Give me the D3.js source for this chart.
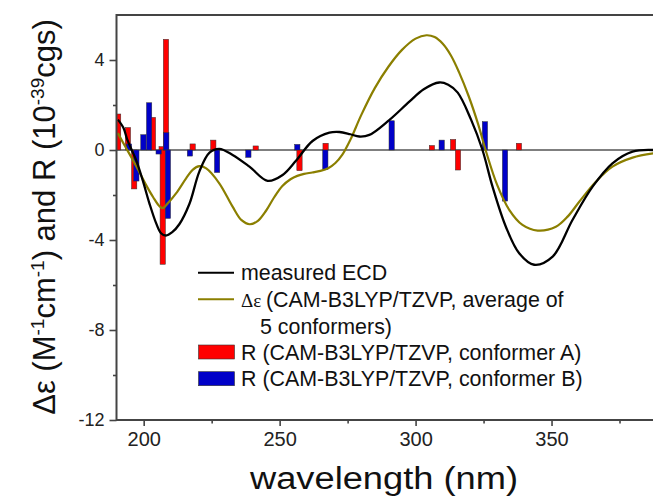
<!DOCTYPE html>
<html>
<head>
<meta charset="utf-8">
<script src="https://cdn.jsdelivr.net/npm/d3@7"></script>
<style>
  body { margin: 0; background: #fff; }
  svg { display: block; font-family: Arial, "Liberation Sans", sans-serif; }
</style>
</head>
<body>
<svg id="chart" width="653" height="496"></svg>
<script>
// measured ECD (wavelength nm, delta epsilon)
const ecdWl = [190.5, 192.5, 194, 195.6, 197.2, 199.6, 202.1, 204.6, 206.4, 208.2, 210.5, 213.1, 216.8, 220.5, 224.2, 227.8, 232.7, 238.9, 245.6, 251.1, 256, 262.1, 268.3, 272, 276, 279.3, 283, 290.3, 297.7, 303, 308.7, 312, 315.5, 320.4, 324.6, 328.3, 333.2, 338.1, 343.6, 350.4, 357.7, 365.1, 372.4, 379.8, 387.5];
const ecdVal = [1.35, 1.0, 0.45, 0.0, -0.44, -1.33, -2.37, -3.26, -3.7, -3.8, -3.65, -3.3, -2.4, -0.95, -0.12, 0.05, -0.22, -0.74, -1.37, -1.11, -0.48, 0.4, 0.77, 0.8, 0.7, 0.6, 0.67, 1.33, 2.15, 2.7, 3.0, 2.9, 2.55, 1.35, 0.0, -1.63, -3.41, -4.59, -5.1, -4.74, -3.11, -1.63, -0.59, -0.07, 0.0];

// calculated spectrum, average of 5 conformers
const calcWl = [190.5, 193, 196, 198.5, 200.9, 203.5, 205.8, 207, 209, 211.9, 215.6, 218, 220.5, 223, 227.8, 232.7, 236, 239, 242, 245, 248, 251, 254, 256.5, 259, 262, 265, 268, 270.5, 273, 276, 280, 285, 290, 295, 300, 304, 307, 310, 313, 316, 319.5, 323, 326, 330, 334.5, 339.3, 344.9, 351.6, 356, 360.2, 366.3, 372.4, 379.8, 387.5];
const calcVal = [0.75, 0.2, -0.44, -1.0, -1.56, -2.1, -2.5, -2.58, -2.35, -1.93, -1.26, -0.88, -0.72, -0.82, -1.48, -2.52, -3.12, -3.3, -3.15, -2.7, -2.1, -1.6, -1.3, -1.15, -1.06, -1.0, -0.93, -0.8, -0.58, -0.22, 0.45, 1.55, 2.75, 3.7, 4.45, 4.95, 5.1, 5.02, 4.72, 4.2, 3.45, 2.4, 1.15, -0.1, -1.55, -2.67, -3.33, -3.58, -3.41, -2.95, -2.3, -1.41, -0.74, -0.34, -0.15];

// rotatory strengths, conformer A
const confAWl = [190.6, 194.2, 196.5, 203.4, 206.6, 207.0, 208.2, 218, 225.6, 241.2, 257.3, 266.9, 306, 313.8, 315.6, 338];
const confAR = [1.6, 1.0, -1.73, 1.45, 0.15, -5.08, 4.92, 0.27, 0.44, 0.18, -0.92, 0.3, 0.2, 0.47, -0.89, 0.3];

// rotatory strengths, conformer B
const confBWl = [194.6, 197.3, 199.9, 202, 205.5, 208.3, 208.9, 217, 227, 238.5, 256.5, 266.8, 291.2, 309.6, 325.5, 332.9];
const confBR = [0.27, -1.38, 0.68, 2.1, -0.18, 0.77, -3.04, -0.27, -1.0, -0.33, 0.25, -0.86, 1.3, 0.44, 1.26, -2.27];

const xMajor = [200, 250, 300, 350];
const xMinor = [225, 275, 325, 375];
const yMajor = [-12, -8, -4, 0, 4];
const yMinor = [-10, -6, -2, 2];

const legendRows = [
  { type: "line", color: "#000", text: "measured ECD" },
  { type: "line", color: "#8b7f00", text: "(CAM-B3LYP/TZVP, average of", delta: true },
  { type: "none", text: "5 conformers)" },
  { type: "box", color: "#ff0000", text: "R (CAM-B3LYP/TZVP, conformer A)" },
  { type: "box", color: "#0000c8", text: "R (CAM-B3LYP/TZVP, conformer B)" },
];

const svg = d3.select("#chart");
const mLeft = 116.5, mRight = 653.5, mTop = 15, mBottom = 420;

const x = d3.scaleLinear().domain([190, 387.5]).range([mLeft, mRight]);
const y = d3.scaleLinear().domain([-12, 6]).range([mBottom, mTop]);

svg.append("defs").append("clipPath").attr("id", "plot")
  .append("rect")
  .attr("x", mLeft).attr("y", mTop)
  .attr("width", mRight - mLeft).attr("height", mBottom - mTop);

const plot = svg.append("g").attr("clip-path", "url(#plot)");

// zero line
plot.append("line")
  .attr("x1", mLeft).attr("x2", mRight)
  .attr("y1", y(0)).attr("y2", y(0))
  .attr("stroke", "#555").attr("stroke-width", 1.6);

const barW = 1.95; // nm
const drawBars = (wl, vals, color) => {
  plot.append("g")
    .selectAll("rect")
    .data(d3.zip(wl, vals))
    .join("rect")
    .attr("x", (d) => x(d[0] - barW / 2))
    .attr("width", (d) => x(d[0] + barW / 2) - x(d[0] - barW / 2))
    .attr("y", (d) => y(Math.max(0, d[1])))
    .attr("height", (d) => Math.abs(y(d[1]) - y(0)))
    .attr("fill", color)
    .attr("stroke", "#333")
    .attr("stroke-width", 0.5);
};
drawBars(confAWl, confAR, "#ff0000");
drawBars(confBWl, confBR, "#0000c8");

const line = d3.line()
  .x((d) => x(d[0]))
  .y((d) => y(d[1]))
  .curve(d3.curveCatmullRom.alpha(0.5));

plot.append("path")
  .datum(d3.zip(calcWl, calcVal))
  .attr("d", line)
  .attr("fill", "none")
  .attr("stroke", "#8b7f00")
  .attr("stroke-width", 2.2);

plot.append("path")
  .datum(d3.zip(ecdWl, ecdVal))
  .attr("d", line)
  .attr("fill", "none")
  .attr("stroke", "#000")
  .attr("stroke-width", 2.3);

// axes
const styleAxis = (g) => {
  g.select(".domain").remove();
  g.selectAll(".tick line").attr("stroke", "#444").attr("stroke-width", 1.6);
  g.selectAll(".tick text").attr("fill", "#222").attr("font-family", "Arial, 'Liberation Sans'");
};

svg.append("g")
  .attr("transform", `translate(0,${mBottom})`)
  .call(d3.axisBottom(x).tickValues(xMajor).tickSize(6).tickPadding(6).tickFormat(d3.format("d")))
  .call(styleAxis)
  .selectAll("text").attr("font-size", 20);

svg.append("g")
  .attr("transform", `translate(0,${mBottom})`)
  .call(d3.axisBottom(x).tickValues(xMinor).tickSize(3.5).tickFormat(""))
  .call(styleAxis);

svg.append("g")
  .attr("transform", `translate(${mLeft},0)`)
  .call(d3.axisLeft(y).tickValues(yMajor).tickSize(7).tickPadding(5).tickFormat((d) => String(d)))
  .call(styleAxis)
  .selectAll("text").attr("font-size", 18);

svg.append("g")
  .attr("transform", `translate(${mLeft},0)`)
  .call(d3.axisLeft(y).tickValues(yMinor).tickSize(3.5).tickFormat(""))
  .call(styleAxis);

// frame: left, bottom, top
svg.append("path")
  .attr("d", `M${mRight},${mTop}H${mLeft}V${mBottom}H${mRight}`)
  .attr("fill", "none")
  .attr("stroke", "#444")
  .attr("stroke-width", 2);

// axis titles (the original is a little wider than its height suggests)
svg.append("text")
  .attr("x", 384).attr("y", 489)
  .attr("text-anchor", "middle")
  .attr("font-size", 31)
  .attr("textLength", 268)
  .attr("lengthAdjust", "spacingAndGlyphs")
  .attr("fill", "#111")
  .text("wavelength (nm)");

const yTitle = svg.append("text")
  .attr("transform", "translate(55,217) rotate(-90)")
  .attr("text-anchor", "middle")
  .attr("font-size", 31)
  .attr("fill", "#111");
yTitle.append("tspan").text("Δε (M");
yTitle.append("tspan").attr("dy", -11).attr("font-size", 19).text("-1");
yTitle.append("tspan").attr("dy", 11).text("cm");
yTitle.append("tspan").attr("dy", -11).attr("font-size", 19).text("-1");
yTitle.append("tspan").attr("dy", 11).text(") and R (10");
yTitle.append("tspan").attr("dy", -11).attr("font-size", 19).text("-39");
yTitle.append("tspan").attr("dy", 11).text("cgs)");

// legend
const legend = svg.append("g");
const rowY = [272.7, 299.3, 326, 352, 378.7];
legendRows.forEach((r, i) => {
  const cy = rowY[i];
  if (r.type === "line") {
    legend.append("line")
      .attr("x1", 198).attr("x2", 234)
      .attr("y1", cy).attr("y2", cy)
      .attr("stroke", r.color).attr("stroke-width", 2);
  } else if (r.type === "box") {
    legend.append("rect")
      .attr("x", 198.5).attr("y", cy - 7)
      .attr("width", 36).attr("height", 14)
      .attr("fill", r.color)
      .attr("stroke", "#333").attr("stroke-width", 0.6);
  }
  const t = legend.append("text")
    .attr("x", r.type === "none" ? 260 : 241)
    .attr("y", cy + 7.5)
    .attr("font-size", 21.4)
    .attr("fill", "#111");
  if (r.delta) {
    t.append("tspan").attr("font-family", "'Liberation Serif', serif").attr("font-size", 19).text("Δε ");
  }
  t.append("tspan").text(r.text);
});
</script>
</body>
</html>
